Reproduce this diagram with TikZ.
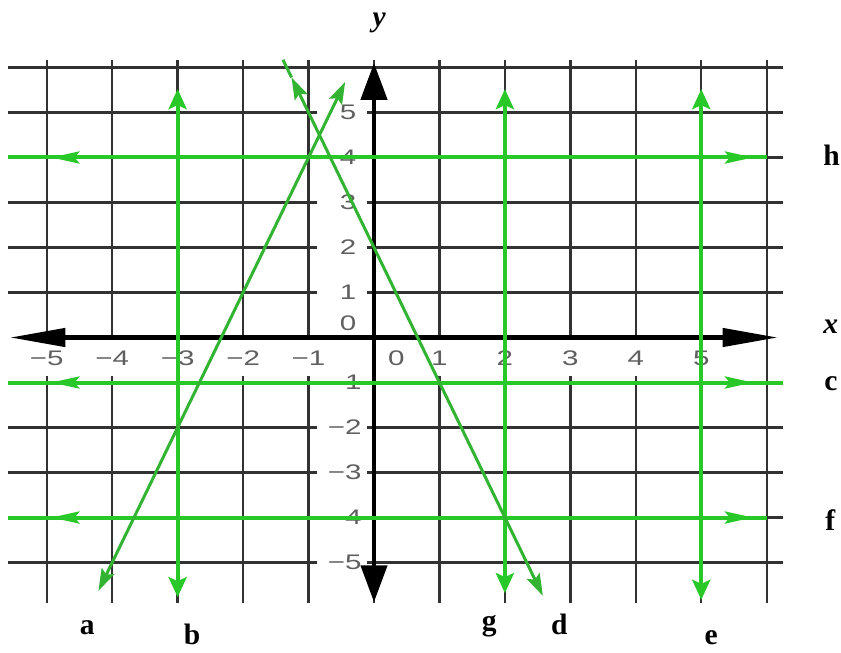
\documentclass[tikz,border=0pt]{standalone}
\usepackage{fontspec}
\setmainfont{Liberation Serif}
\setsansfont{Liberation Sans}
\usepackage{tikz}
\usetikzlibrary{arrows.meta, positioning}
\definecolor{cGrid}{RGB}{50,50,50}
\definecolor{cLine}{RGB}{40,200,40}
\definecolor{cDiag}{RGB}{50,180,50}
\definecolor{cTick}{RGB}{95,95,95}
\tikzset{
	gridline/.style={draw=cGrid, line width=0.06cm},
	axisline/.style={draw=black, line width=0.11cm},
	gline/.style={draw=cLine, line width=0.1cm},
	dline/.style={draw=cDiag, line width=0.075cm},
	harr/.style={-{Stealth[length=0.7cm, width=0.3cm, inset=0.12cm]}},
	varr/.style={{Stealth[length=0.5cm, width=0.45cm, inset=0.1cm]}-{Stealth[length=0.5cm, width=0.45cm, inset=0.1cm]}},
	darr/.style={{Stealth[length=0.55cm, width=0.35cm, inset=0.1cm]}-{Stealth[length=0.55cm, width=0.35cm, inset=0.1cm]}},
	tickx/.style={font=\sffamily\fontsize{15}{18}\selectfont, text=cTick, fill=white, inner sep=0pt, minimum height=0.9cm, minimum width=0.7cm},
	ticky/.style={font=\sffamily\fontsize{15}{18}\selectfont, text=cTick, fill=white, anchor=east, inner xsep=0.27cm, inner ysep=0pt, minimum height=0.7cm, text width=0.71cm, align=right},
	linelbl/.style={font=\bfseries\fontsize{21}{25}\selectfont, anchor=base},
}

\begin{document}
\begin{tikzpicture}[x=1.63625cm, y=1.125cm]
	\fill[white] (-5.714,-6.99) rectangle (7.135,7.5);
	\useasboundingbox (-5.714,-6.99) rectangle (7.135,7.5);
	% grid
	\foreach \i in {-5,...,6} \draw[gridline] (\i,-5.9) -- (\i,6.17);
	\foreach \j in {-5,...,-1,1,2,...,6} \draw[gridline] (-5.59,\j) -- (6.25,\j);
	% tick labels
	\foreach \i in {1,...,5} {
		\node[tickx] (txm\i) at (-\i,-0.46) {\scalebox{1.4}[1]{−\i}};
		\node[tickx] (tx\i) at (\i,-0.46) {\scalebox{1.4}[1]{\i}};
		\node[ticky] (tym\i) at (-0.1,-\i) {\scalebox{1.4}[1]{−\i}};
		\node[ticky] (ty\i) at (-0.1,\i) {\scalebox{1.4}[1]{\i}};
	}
	\node[tickx] (tx0) at (0.34,-0.46) {\scalebox{1.4}[1]{0}};
	\node[ticky] (ty0) at (-0.1,0.32) {\scalebox{1.4}[1]{0}};
	% axes
	\draw[axisline, {Triangle[length=1.38cm, width=0.45cm]}-{Triangle[length=1.38cm, width=0.45cm]}] (-5.56,0) -- (6.17,0);
	\draw[axisline, {Triangle[length=0.92cm, width=0.65cm]}-{Triangle[length=0.92cm, width=0.65cm]}] (0,-5.88) -- (0,6.1);
	% horizontal lines h, c, f
	\foreach \yy/\e in {4/6, -1/6.25, -4/6} {
		\draw[gline] (-5.59,\yy) -- (\e,\yy);
		\draw[gline, harr] (-4.3,\yy) -- (-4.93,\yy);
		\draw[gline, harr] (5.2,\yy) -- (5.79,\yy);
	}
	% vertical lines b, g, e
	\foreach \xx/\lo in {-3/-5.77, 2/-5.68, 5/-5.83} \draw[gline, varr] (\xx,\lo) -- (\xx,5.52);
	% slanted lines a, d
	\draw[dline, darr] (-4.21,-5.63) -- (-0.44,5.68);
	\draw[dline] (-1.39,6.17) -- (-1.26,5.78);
	\draw[dline, darr] (-1.26,5.78) -- (2.58,-5.74);
	% labels
	\node[linelbl] (la) at (-4.38,-6.61) {a};
	\node[linelbl] (lb) at (-2.78,-6.82) {b};
	\node[linelbl] (lg) at (1.76,-6.5) {g};
	\node[linelbl] (ld) at (2.83,-6.61) {d};
	\node[linelbl] (le) at (5.15,-6.82) {e};
	\node[linelbl] (lh) at (6.99,3.83) {h};
	\node[linelbl] (lc) at (6.98,-1.17) {c};
	\node[linelbl] (lf) at (6.97,-4.28) {f};
	\node[linelbl] (lx) at (6.98,0.1) {\itshape x};
	\node[linelbl] (ly) at (0.08,6.9) {\itshape y};
\end{tikzpicture}
\end{document}
